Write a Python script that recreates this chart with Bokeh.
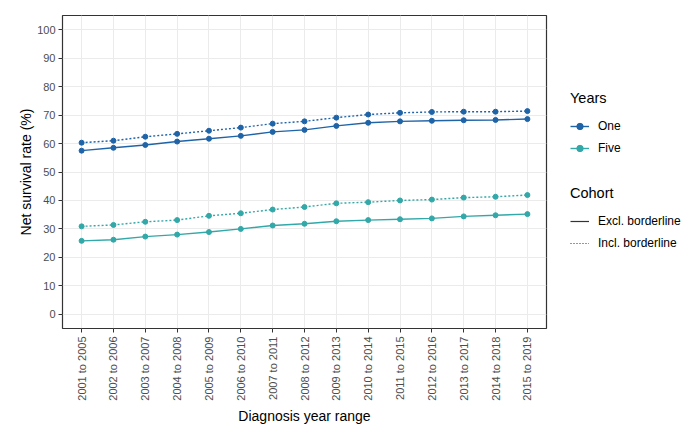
import math
from bokeh.plotting import figure
from bokeh.layouts import row
from bokeh.models import (FactorRange, Range1d, FixedTicker, Legend, LegendItem, ColumnDataSource)
from bokeh.embed import file_html
from bokeh.resources import INLINE

periods = ["2001 to 2005", "2002 to 2006", "2003 to 2007", "2004 to 2008", "2005 to 2009",
           "2006 to 2010", "2007 to 2011", "2008 to 2012", "2009 to 2013", "2010 to 2014",
           "2011 to 2015", "2012 to 2016", "2013 to 2017", "2014 to 2018", "2015 to 2019"]
one_excl = [57.5, 58.5, 59.5, 60.7, 61.7, 62.7, 64.1, 64.8, 66.2, 67.3, 67.8, 68.0, 68.2, 68.3, 68.6]
one_incl = [60.3, 61.0, 62.4, 63.4, 64.5, 65.6, 67.0, 67.8, 69.1, 70.2, 70.8, 71.1, 71.2, 71.2, 71.4]
five_excl = [25.8, 26.2, 27.3, 28.0, 28.9, 30.0, 31.2, 31.8, 32.7, 33.1, 33.4, 33.7, 34.4, 34.8, 35.2]
five_incl = [30.9, 31.4, 32.5, 33.1, 34.6, 35.5, 36.8, 37.7, 39.0, 39.4, 40.0, 40.3, 41.0, 41.3, 41.9]
y_ticks = [0, 10, 20, 30, 40, 50, 60, 70, 80, 90, 100]

C_ONE = "#2064a8"
C_FIVE = "#33a8a8"
FONT = "Liberation Sans"

p = figure(width=550, height=435, output_backend="svg", toolbar_location=None,
           x_range=FactorRange(factors=periods, range_padding=0.1, range_padding_units="absolute"),
           y_range=Range1d(-5, 105),
           min_border_left=62, min_border_right=4, min_border_top=15, min_border_bottom=107)

p.outline_line_color = "#333333"
p.outline_line_width = 1.2
p.background_fill_color = "white"
p.border_fill_color = "white"

p.xgrid.grid_line_color = "#ebebeb"
p.ygrid.grid_line_color = "#ebebeb"

p.yaxis.ticker = FixedTicker(ticks=y_ticks)
p.yaxis.minor_tick_line_color = None
for ax in (p.xaxis, p.yaxis):
    ax.axis_line_color = None
    ax.major_tick_line_color = "#333333"
    ax.major_tick_in = 0
    ax.major_tick_out = 4
    ax.major_label_text_color = "#4d4d4d"
    ax.major_label_text_font = FONT
    ax.major_label_text_font_size = "11px"
    ax.axis_label_text_font = FONT
    ax.axis_label_text_font_style = "normal"
    ax.axis_label_text_font_size = "14px"
    ax.axis_label_text_color = "black"
p.xaxis.major_label_orientation = math.pi / 2
p.xaxis.major_label_standoff = 4
p.yaxis.major_label_standoff = 3
p.xaxis.axis_label = "Diagnosis year range"
p.yaxis.axis_label = "Net survival rate (%)"
p.xaxis.axis_label_standoff = 4
p.yaxis.axis_label_standoff = 0

src = ColumnDataSource(dict(x=periods, oe=one_excl, oi=one_incl, fe=five_excl, fi=five_incl))

p.line("x", "oe", source=src, color=C_ONE, line_width=1.4)
p.line("x", "oi", source=src, color=C_ONE, line_width=1.4, line_dash="2 2")
p.line("x", "fe", source=src, color=C_FIVE, line_width=1.4)
p.line("x", "fi", source=src, color=C_FIVE, line_width=1.4, line_dash="2 2")
p.scatter("x", "oe", source=src, color=C_ONE, size=5)
p.scatter("x", "oi", source=src, color=C_ONE, size=5)
p.scatter("x", "fe", source=src, color=C_FIVE, size=5)
p.scatter("x", "fi", source=src, color=C_FIVE, size=5)

# legend panel (its frame is aligned with the main frame by the row layout)
lg = figure(width=146, height=435, output_backend="svg", toolbar_location=None,
            x_range=Range1d(0, 1), y_range=Range1d(0, 1),
            x_axis_type=None, y_axis_type=None,
            min_border_left=0, min_border_right=0, min_border_top=15, min_border_bottom=107,
            outline_line_color=None)
lg.grid.visible = False
lg.border_fill_color = "white"

hidden = ColumnDataSource(dict(x=[-10, -11], y=[-10, -11]))
d_one_l = lg.line("x", "y", source=hidden, color=C_ONE, line_width=1.4)
d_one_m = lg.scatter("x", "y", source=hidden, color=C_ONE, size=4)
d_five_l = lg.line("x", "y", source=hidden, color=C_FIVE, line_width=1.4)
d_five_m = lg.scatter("x", "y", source=hidden, color=C_FIVE, size=4)
d_excl = lg.line("x", "y", source=hidden, color="#333333", line_width=1.2)
d_incl = lg.line("x", "y", source=hidden, color="#333333", line_width=1.2, line_dash="1 2")


def style(leg):
    leg.border_line_color = None
    leg.background_fill_alpha = 0
    leg.title_text_font = FONT
    leg.title_text_font_size = "14.5px"
    leg.title_text_font_style = "normal"
    leg.title_text_color = "black"
    leg.title_standoff = 12
    leg.label_text_font = FONT
    leg.label_text_font_size = "12px"
    leg.label_text_color = "black"
    leg.glyph_width = 19
    leg.glyph_height = 16
    leg.label_standoff = 9
    leg.spacing = 6
    leg.padding = 0
    leg.margin = 0


leg1 = Legend(items=[LegendItem(label="One", renderers=[d_one_l, d_one_m]),
                     LegendItem(label="Five", renderers=[d_five_l, d_five_m])],
              title="Years", location=(20, 172))
leg2 = Legend(items=[LegendItem(label="Excl. borderline", renderers=[d_excl]),
                     LegendItem(label="Incl. borderline", renderers=[d_incl])],
              title="Cohort", location=(20, 77))
style(leg1)
style(leg2)
lg.add_layout(leg1)
lg.add_layout(leg2)

layout = row(p, lg, spacing=0)
open("out.html", "w").write(file_html(layout, INLINE))
